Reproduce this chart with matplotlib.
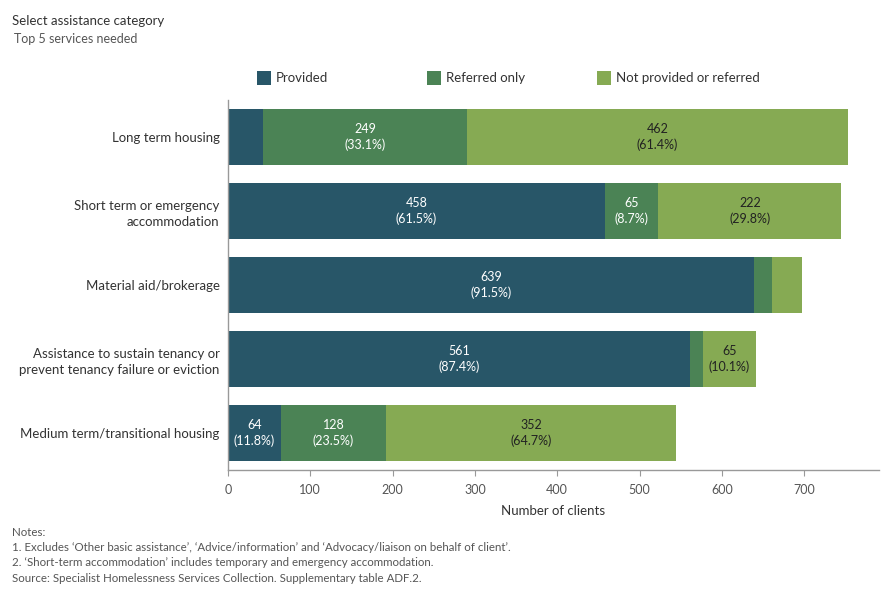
"""
Top 5 services needed: provided / referred only / not provided or referred
(horizontal stacked bars, Tableau-style layout)

Output:
    out.png
"""
import matplotlib.pyplot as plt
import numpy as np
from matplotlib.patches import Rectangle

plt.rcParams["font.family"] = ["Lato", "DejaVu Sans"]

CATEGORIES = [
    "Long term housing",
    "Short term or emergency\naccommodation",
    "Material aid/brokerage",
    "Assistance to sustain tenancy or\nprevent tenancy failure or eviction",
    "Medium term/transitional housing",
]
PROVIDED = [42, 458, 639, 561, 64]
REFERRED = [249, 65, 22, 16, 128]
NOT_PROVIDED = [462, 222, 37, 65, 352]

SERIES = ["Provided", "Referred only", "Not provided or referred"]
COLORS = ["#285668", "#4b8355", "#86aa53"]
TEXT_COLORS = ["white", "white", "#222222"]

X_TICKS = [0, 100, 200, 300, 400, 500, 600, 700]

NOTES = [
    "Notes:",
    "1. Excludes \u2018Other basic assistance\u2019, \u2018Advice/information\u2019 and "
    "\u2018Advocacy/liaison on behalf of client\u2019.",
    "2. \u2018Short-term accommodation\u2019 includes temporary and emergency accommodation.",
    "Source: Specialist Homelessness Services Collection. Supplementary table ADF.2.",
]

W, H = 890, 600
AX_L, AX_R, AX_T, AX_B = 228, 879, 100, 470


def main() -> None:
    fig = plt.figure(figsize=(W / 100, H / 100), dpi=100)
    ax = fig.add_axes([AX_L / W, 1 - AX_B / H, (AX_R - AX_L) / W,
                       (AX_B - AX_T) / H])

    data = np.array([PROVIDED, REFERRED, NOT_PROVIDED], dtype=float)
    totals = data.sum(axis=0)
    y = np.arange(len(CATEGORIES))
    left = np.zeros(len(CATEGORIES))

    for vals, color, tcolor in zip(data, COLORS, TEXT_COLORS):
        ax.barh(y, vals, left=left, height=0.76, color=color, linewidth=0)
        for yi, (v, l, t) in enumerate(zip(vals, left, totals)):
            if v >= 50:
                ax.text(l + v / 2, yi, f"{v:.0f}\n({v / t * 100:.1f}%)",
                        ha="center", va="center", fontsize=9,
                        color=tcolor, linespacing=1.25)
        left += vals

    ax.set_ylim(len(CATEGORIES) - 0.5, -0.5)
    ax.set_xlim(0, 791)
    ax.set_yticks(y)
    ax.set_yticklabels(CATEGORIES, fontsize=9.5, color="#333333",
                       linespacing=1.35)
    ax.set_xticks(X_TICKS)
    ax.set_xticklabels([str(t) for t in X_TICKS], fontsize=9, color="#555555")
    ax.tick_params(axis="y", length=0, pad=6)
    ax.tick_params(axis="x", length=4, color="#999999", pad=6)
    ax.set_xlabel("Number of clients", fontsize=9.5, color="#333333")
    ax.xaxis.set_label_coords((553 - AX_L) / (AX_R - AX_L), -0.095)

    for side in ("top", "right"):
        ax.spines[side].set_visible(False)
    for side in ("left", "bottom"):
        ax.spines[side].set_color("#999999")
        ax.spines[side].set_linewidth(1.0)

    # legend across the top
    for i, (name, color) in enumerate(zip(SERIES, COLORS)):
        x0 = 257 + i * 170
        fig.patches.append(Rectangle((x0 / W, 1 - 85 / H), 14 / W, 14 / H,
                                     transform=fig.transFigure,
                                     facecolor=color, edgecolor="none"))
        fig.text((x0 + 19) / W, 1 - 78 / H, name, fontsize=9.5,
                 color="#333333", va="center")

    fig.text(12 / W, 1 - 21 / H, "Select assistance category", fontsize=9.5,
             color="#333333", va="center")
    fig.text(14 / W, 1 - 39 / H, "Top 5 services needed", fontsize=9,
             color="#555555", va="center")

    for i, line in enumerate(NOTES):
        fig.text(12 / W, 1 - (532 + i * 15.5) / H, line, fontsize=8.3,
                 color="#555555", va="center")

    fig.savefig("out.png", dpi=100)
    plt.close(fig)


if __name__ == "__main__":
    main()
